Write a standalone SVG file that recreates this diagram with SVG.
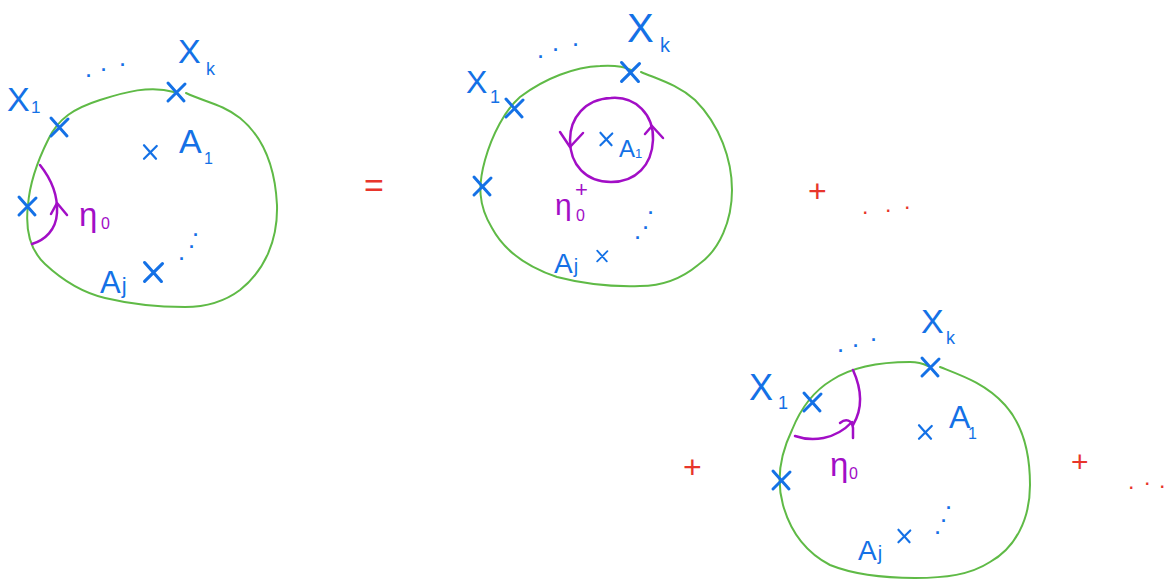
<svg xmlns="http://www.w3.org/2000/svg" xmlns:xlink="http://www.w3.org/1999/xlink" width="1167" height="582" viewBox="0 0 1167 582">
<style>
.g{fill:none;stroke:#5fba46;stroke-width:2;stroke-linecap:round}
.p{fill:none;stroke:#a20ec6;stroke-width:2.5;stroke-linecap:round;stroke-linejoin:round}
.x{fill:none;stroke:#1471e6;stroke-width:3;stroke-linecap:round}
.b{fill:#1471e6;font-family:"Liberation Sans",Arial,sans-serif}
.pt{fill:#a20ec6;font-family:"Liberation Sans",Arial,sans-serif}
.r{fill:#e8352b;font-family:"Liberation Sans",Arial,sans-serif}
.dot{font-weight:bold}
</style>
<defs>
<path id="cr" d="M-8,-9 L8,9 M9,-8 L-8,9"/>
</defs>
<rect width="1167" height="582" fill="#fff"/>

<g id="term1">
<path class="g" d="M186,93 C205,102 222,104 240,118 C262,136 275,165 277,205 C278,240 265,270 240,290 C220,305 200,307 185,307 C160,307 130,304 105,298 C80,292 60,278 45,264 C30,250 25,230 28,205 C30,180 38,160 48,140 C58,118 75,108 100,100 C125,92 150,85 174,92"/>
<g class="x">
<use xlink:href="#cr" transform="translate(176,92)"/>
<use xlink:href="#cr" transform="translate(59,127)"/>
<use xlink:href="#cr" transform="translate(27,206)"/>
<use xlink:href="#cr" transform="translate(150,152) scale(0.75)"/>
<use xlink:href="#cr" transform="translate(153,272) scale(1.05)"/>
</g>
<text class="b" x="178" y="63" font-size="34">X</text>
<text class="b" x="206" y="75" font-size="18">k</text>
<text class="b" x="7" y="111" font-size="34">X</text>
<text class="b" x="31" y="113" font-size="17">1</text>
<text class="b" x="179" y="153" font-size="34">A</text>
<text class="b" x="204" y="164" font-size="16">1</text>
<text class="b" x="100" y="293" font-size="31">A<tspan font-size="22" dx="1">j</tspan></text>
<text class="b dot" x="86 101 120" y="82 76 71" font-size="18">···</text>
<text class="b dot" x="193 189 179" y="241 253 265" font-size="18">···</text>
<path class="p" d="M40,165 C52,180 58,195 57,213 C56,230 45,240 32,244"/>
<path class="p" d="M51,214 L57,203 L67,215"/>
<text class="pt" x="79" y="226" font-size="33">η</text>
<text class="pt" x="101" y="229" font-size="16">0</text>
</g>

<g id="term2">
<path class="g" d="M641,72 C660,80 678,85 695,100 C720,125 732,160 732,190 C732,220 720,250 698,265 C680,280 660,286 640,286 C610,287 580,283 557,277 C530,268 505,252 492,228 C478,205 478,185 485,160 C492,135 505,110 520,97 C545,78 575,67 600,66 C615,65 625,67 631,70"/>
<g class="x">
<use xlink:href="#cr" transform="translate(630,72) scale(1.05)"/>
<use xlink:href="#cr" transform="translate(514,108)"/>
<use xlink:href="#cr" transform="translate(482,186)"/>
<use xlink:href="#cr" transform="translate(606,139) scale(0.7)"/>
<use xlink:href="#cr" transform="translate(602,256) scale(0.6)"/>
</g>
<text class="b" x="627" y="42" font-size="40">X</text>
<text class="b" x="660" y="52" font-size="20">k</text>
<text class="b" x="466" y="93" font-size="32">X</text>
<text class="b" x="490" y="103" font-size="18">1</text>
<text class="b" x="619" y="157" font-size="24">A</text>
<text class="b" x="635" y="158" font-size="13">1</text>
<text class="b" x="554" y="273" font-size="28">A<tspan font-size="20" dx="1">j</tspan></text>
<text class="b dot" x="538 553 573" y="63 56 51" font-size="18">···</text>
<text class="b dot" x="648 643 635" y="219 234 244" font-size="18">···</text>
<path class="p" d="M611,98 C636,96 654,115 653,140 C652,165 636,182 611,182 C586,182 570,165 570,140 C570,118 585,99 611,98"/>
<path class="p" d="M560,132 L570,147 L583,133"/>
<path class="p" d="M645,134 L652,126 L663,138"/>
<text class="pt" x="555" y="215" font-size="30">η</text>
<text class="pt" x="576" y="221" font-size="16">0</text>
<text class="pt" x="575" y="197" font-size="22">+</text>
</g>

<g id="term3">
<path class="g" d="M940,367 C960,375 985,383 1005,405 C1023,425 1030,455 1030,485 C1030,520 1015,548 990,562 C970,575 945,578 915,578 C880,578 850,573 830,565 C805,552 790,530 783,505 C776,480 780,455 792,430 C800,410 812,392 832,380 C855,365 885,362 910,362 C918,362 924,364 928,366"/>
<g class="x">
<use xlink:href="#cr" transform="translate(930,367)"/>
<use xlink:href="#cr" transform="translate(812,402)"/>
<use xlink:href="#cr" transform="translate(781,480)"/>
<use xlink:href="#cr" transform="translate(925,432) scale(0.75)"/>
<use xlink:href="#cr" transform="translate(904,536) scale(0.7)"/>
</g>
<text class="b" x="921" y="333" font-size="34">X</text>
<text class="b" x="946" y="344" font-size="18">k</text>
<text class="b" x="749" y="400" font-size="36">X</text>
<text class="b" x="778" y="409" font-size="18">1</text>
<text class="b" x="949" y="428" font-size="32">A</text>
<text class="b" x="968" y="439" font-size="16">1</text>
<text class="b" x="858" y="560" font-size="28">A<tspan font-size="20" dx="1">j</tspan></text>
<text class="b dot" x="838 853 871" y="357 352 346" font-size="18">···</text>
<text class="b dot" x="946 941 935" y="514 527 539" font-size="18">···</text>
<path class="p" d="M853,370 C863,392 862,410 853,425"/>
<path class="p" d="M840,423 C846,418 852,420 853,428 L853,438"/>
<path class="p" d="M795,436 C812,442 835,440 852,422"/>
<text class="pt" x="830" y="476" font-size="33">η</text>
<text class="pt" x="849" y="479" font-size="16">0</text>
</g>

<g id="operators">
<text class="r" x="364" y="197" font-size="34">=</text>
<text class="r" x="808" y="202" font-size="32">+</text>
<text class="r dot" x="863 886 905" y="218 216 213" font-size="16">···</text>
<text class="r" x="683" y="478" font-size="32">+</text>
<text class="r" x="1071" y="472" font-size="30">+</text>
<text class="r dot" x="1129 1145 1160" y="493 489 492" font-size="16">···</text>
</g>
<g id="connectors"/>
</svg>
